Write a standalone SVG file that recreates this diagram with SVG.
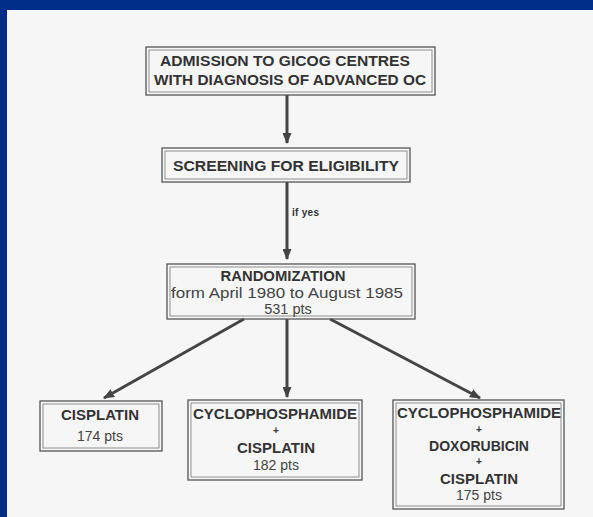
<svg xmlns="http://www.w3.org/2000/svg" width="593" height="517" viewBox="0 0 593 517">
<style>
.box{fill:none;stroke:#555;stroke-width:1.3}
.in{fill:none;stroke:#777;stroke-width:0.8}
.b{font-family:"Liberation Sans",Arial,sans-serif;font-weight:bold;fill:#333;text-anchor:middle}
.n{font-family:"Liberation Sans",Arial,sans-serif;fill:#444;text-anchor:middle}
.c{stroke:#444;stroke-width:3;fill:none}
.lbl{font-family:"Liberation Sans",Arial,sans-serif;font-weight:bold;fill:#333;text-anchor:start}
</style>
<defs>
<marker id="ah" markerWidth="11" markerHeight="9" refX="10" refY="4.5" orient="auto" markerUnits="userSpaceOnUse">
<path d="M0,0 L11,4.5 L0,9 z" fill="#444"/>
</marker>
</defs>
<rect x="0" y="0" width="593" height="517" fill="#f6f6f7"/>
<rect x="0" y="0" width="593" height="10" fill="#002d88"/>
<rect x="0" y="0" width="7" height="517" fill="#002d88"/>

<g id="connectors">
<line class="c" x1="287" y1="95" x2="287" y2="143" marker-end="url(#ah)"/>
<line class="c" x1="287" y1="182" x2="287" y2="259" marker-end="url(#ah)"/>
<line class="c" x1="244" y1="319" x2="104" y2="398" marker-end="url(#ah)"/>
<line class="c" x1="287" y1="319" x2="287" y2="397" marker-end="url(#ah)"/>
<line class="c" x1="330" y1="319" x2="480" y2="398" marker-end="url(#ah)"/>
<text class="lbl" x="292" y="216" font-size="10" textLength="27" lengthAdjust="spacing">if yes</text>
</g>

<g id="admission">
<rect class="box" x="146" y="47" width="289" height="48"/>
<rect class="in" x="149" y="50" width="283" height="42"/>
<text class="b" x="285" y="66" font-size="14.5" textLength="250" lengthAdjust="spacingAndGlyphs">ADMISSION TO GICOG CENTRES</text>
<text class="b" x="290" y="85" font-size="14.5" textLength="272" lengthAdjust="spacingAndGlyphs">WITH DIAGNOSIS OF ADVANCED OC</text>
</g>

<g id="screening">
<rect class="box" x="162" y="148" width="248" height="34"/>
<rect class="in" x="165" y="151" width="242" height="28"/>
<text class="b" x="286" y="171" font-size="14.5" textLength="226" lengthAdjust="spacingAndGlyphs">SCREENING FOR ELIGIBILITY</text>
</g>

<g id="randomization">
<rect class="box" x="167" y="264" width="248" height="55"/>
<rect class="in" x="170" y="267" width="242" height="49"/>
<text class="b" x="283" y="281" font-size="14" textLength="125" lengthAdjust="spacingAndGlyphs">RANDOMIZATION</text>
<text class="n" x="287" y="298" font-size="14.5" textLength="232" lengthAdjust="spacingAndGlyphs">form April 1980 to August 1985</text>
<text class="n" x="288" y="314" font-size="14.5">531 pts</text>
</g>

<g id="cisplatin">
<rect class="box" x="40" y="401" width="122" height="50"/>
<rect class="in" x="43" y="404" width="116" height="44"/>
<text class="b" x="100" y="420" font-size="14" textLength="78" lengthAdjust="spacingAndGlyphs">CISPLATIN</text>
<text class="n" x="100" y="441" font-size="14">174 pts</text>
</g>

<g id="cyclo-cis">
<rect class="box" x="188" y="400" width="174" height="80"/>
<rect class="in" x="191" y="403" width="168" height="74"/>
<text class="b" x="275" y="419" font-size="14" textLength="164" lengthAdjust="spacingAndGlyphs">CYCLOPHOSPHAMIDE</text>
<text class="b" x="276" y="434" font-size="10">+</text>
<text class="b" x="276" y="453" font-size="14" textLength="78" lengthAdjust="spacingAndGlyphs">CISPLATIN</text>
<text class="n" x="276" y="470" font-size="14">182 pts</text>
</g>

<g id="cyclo-doxo-cis">
<rect class="box" x="393" y="400" width="171" height="109"/>
<rect class="in" x="396" y="403" width="165" height="103"/>
<text class="b" x="479" y="418" font-size="14" textLength="164" lengthAdjust="spacingAndGlyphs">CYCLOPHOSPHAMIDE</text>
<text class="b" x="479" y="433" font-size="10">+</text>
<text class="b" x="479" y="451" font-size="14" textLength="100" lengthAdjust="spacingAndGlyphs">DOXORUBICIN</text>
<text class="b" x="479" y="465" font-size="10">+</text>
<text class="b" x="479" y="484" font-size="14" textLength="78" lengthAdjust="spacingAndGlyphs">CISPLATIN</text>
<text class="n" x="479" y="500" font-size="14">175 pts</text>
</g>
</svg>
